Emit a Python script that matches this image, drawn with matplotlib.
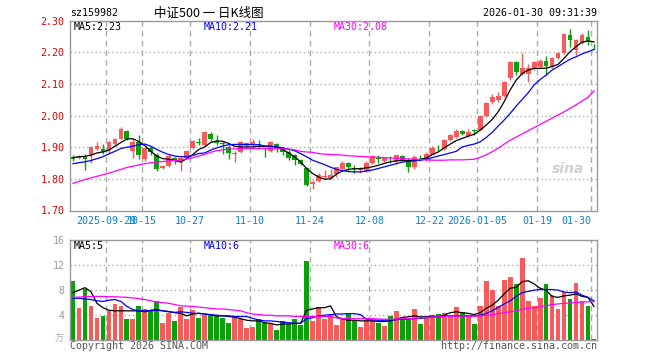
import numpy as np
import matplotlib
matplotlib.use("Agg")
import matplotlib.pyplot as plt
import matplotlib.transforms as mtransforms

# daily candles, index 0 = 2025-09-19 ... index 87 = 2026-01-30
opens = [1.870, 1.865, 1.870, 1.877, 1.893, 1.893, 1.890, 1.910, 1.927, 1.952,
         1.887, 1.915, 1.862, 1.896, 1.877, 1.835, 1.841, 1.867, 1.858, 1.865,
         1.896, 1.915, 1.907, 1.941, 1.920, 1.912, 1.901, 1.880, 1.886, 1.905,
         1.909, 1.909, 1.897, 1.889, 1.910, 1.893, 1.886, 1.875, 1.859, 1.833,
         1.783, 1.793, 1.805, 1.803, 1.815, 1.830, 1.851, 1.834, 1.827, 1.825,
         1.851, 1.866, 1.856, 1.864, 1.856, 1.872, 1.861, 1.836, 1.862, 1.862,
         1.877, 1.899, 1.893, 1.922, 1.932, 1.952, 1.936, 1.954, 1.956, 1.998,
         2.044, 2.049, 2.062, 2.118, 2.170, 2.133, 2.133, 2.149, 2.155, 2.174,
         2.158, 2.183, 2.197, 2.255, 2.207, 2.228, 2.247, 2.226]
closes = [1.864, 1.872, 1.864, 1.900, 1.905, 1.885, 1.915, 1.927, 1.958, 1.927,
          1.915, 1.875, 1.898, 1.885, 1.830, 1.841, 1.872, 1.856, 1.865, 1.889,
          1.920, 1.913, 1.949, 1.926, 1.914, 1.911, 1.882, 1.883, 1.915, 1.912,
          1.917, 1.907, 1.895, 1.915, 1.896, 1.886, 1.866, 1.859, 1.847, 1.780,
          1.790, 1.812, 1.808, 1.811, 1.836, 1.851, 1.838, 1.832, 1.832, 1.851,
          1.872, 1.864, 1.867, 1.862, 1.874, 1.861, 1.836, 1.870, 1.860, 1.880,
          1.898, 1.897, 1.922, 1.939, 1.952, 1.943, 1.949, 1.952, 1.999, 2.041,
          2.060, 2.062, 2.107, 2.170, 2.139, 2.149, 2.149, 2.170, 2.174, 2.158,
          2.181, 2.197, 2.257, 2.239, 2.239, 2.255, 2.232, 2.225]
highs = [1.877, 1.875, 1.879, 1.903, 1.916, 1.911, 1.920, 1.930, 1.965, 1.955,
         1.925, 1.939, 1.902, 1.903, 1.882, 1.844, 1.876, 1.870, 1.868, 1.892,
         1.924, 1.929, 1.952, 1.949, 1.938, 1.919, 1.907, 1.887, 1.920, 1.917,
         1.926, 1.922, 1.900, 1.919, 1.912, 1.896, 1.891, 1.880, 1.862, 1.836,
         1.796, 1.820, 1.828, 1.832, 1.836, 1.855, 1.852, 1.843, 1.836, 1.855,
         1.877, 1.874, 1.870, 1.872, 1.877, 1.875, 1.865, 1.877, 1.877, 1.885,
         1.903, 1.908, 1.925, 1.943, 1.958, 1.955, 1.959, 1.959, 2.002, 2.044,
         2.068, 2.075, 2.110, 2.174, 2.174, 2.197, 2.163, 2.174, 2.178, 2.188,
         2.186, 2.200, 2.261, 2.274, 2.243, 2.262, 2.271, 2.226]
lows = [1.856, 1.862, 1.828, 1.851, 1.890, 1.879, 1.878, 1.905, 1.925, 1.922,
        1.867, 1.862, 1.858, 1.877, 1.825, 1.832, 1.838, 1.846, 1.825, 1.862,
        1.894, 1.906, 1.905, 1.919, 1.907, 1.880, 1.864, 1.852, 1.882, 1.901,
        1.901, 1.896, 1.870, 1.886, 1.886, 1.875, 1.861, 1.845, 1.843, 1.777,
        1.767, 1.790, 1.800, 1.800, 1.805, 1.826, 1.826, 1.820, 1.818, 1.822,
        1.846, 1.851, 1.852, 1.851, 1.846, 1.857, 1.822, 1.830, 1.856, 1.858,
        1.874, 1.887, 1.890, 1.920, 1.929, 1.940, 1.931, 1.938, 1.954, 1.996,
        2.038, 2.044, 2.060, 2.114, 2.128, 2.128, 2.105, 2.145, 2.150, 2.128,
        2.152, 2.180, 2.195, 2.218, 2.192, 2.225, 2.223, 2.212]

ma5 = [1.867, 1.870, 1.871, 1.875, 1.882, 1.885, 1.891, 1.903, 1.915, 1.926,
       1.927, 1.918, 1.905, 1.887, 1.872, 1.864, 1.862, 1.858, 1.853, 1.864,
       1.877, 1.893, 1.901, 1.915, 1.920, 1.919, 1.912, 1.903, 1.901, 1.901,
       1.901, 1.903, 1.903, 1.903, 1.901, 1.893, 1.882, 1.870, 1.854, 1.833,
       1.817, 1.806, 1.799, 1.800, 1.815, 1.825, 1.830, 1.832, 1.832, 1.835,
       1.838, 1.843, 1.849, 1.854, 1.857, 1.858, 1.857, 1.859, 1.862, 1.866,
       1.877, 1.885, 1.898, 1.910, 1.921, 1.928, 1.935, 1.941, 1.954, 1.970,
       1.988, 2.012, 2.044, 2.081, 2.112, 2.133, 2.144, 2.149, 2.149, 2.150,
       2.155, 2.162, 2.181, 2.202, 2.218, 2.232, 2.236, 2.233]
ma10 = [1.848, 1.851, 1.854, 1.858, 1.864, 1.870, 1.879, 1.887, 1.896, 1.900,
        1.903, 1.908, 1.910, 1.903, 1.893, 1.884, 1.877, 1.872, 1.870, 1.870,
        1.874, 1.880, 1.882, 1.891, 1.898, 1.904, 1.908, 1.909, 1.909, 1.909,
        1.908, 1.908, 1.904, 1.903, 1.901, 1.898, 1.894, 1.889, 1.880, 1.870,
        1.859, 1.852, 1.845, 1.837, 1.830, 1.826, 1.823, 1.822, 1.822, 1.825,
        1.828, 1.833, 1.838, 1.843, 1.848, 1.853, 1.855, 1.857, 1.859, 1.862,
        1.867, 1.872, 1.877, 1.882, 1.887, 1.901, 1.906, 1.910, 1.917, 1.931,
        1.947, 1.967, 1.986, 2.007, 2.030, 2.051, 2.072, 2.097, 2.114, 2.128,
        2.144, 2.155, 2.167, 2.178, 2.186, 2.195, 2.202, 2.209]
ma30 = [1.786, 1.792, 1.798, 1.803, 1.808, 1.813, 1.818, 1.824, 1.830, 1.836,
        1.840, 1.844, 1.848, 1.851, 1.853, 1.855, 1.857, 1.858, 1.860, 1.863,
        1.867, 1.872, 1.878, 1.884, 1.889, 1.892, 1.894, 1.895, 1.896, 1.896,
        1.896, 1.896, 1.896, 1.895, 1.895, 1.895, 1.894, 1.892, 1.887, 1.885,
        1.884, 1.880, 1.878, 1.877, 1.876, 1.875, 1.873, 1.872, 1.871, 1.870,
        1.869, 1.868, 1.867, 1.866, 1.865, 1.864, 1.863, 1.862, 1.861, 1.860,
        1.859, 1.859, 1.859, 1.860, 1.860, 1.860, 1.861, 1.862, 1.868, 1.876,
        1.886, 1.897, 1.910, 1.922, 1.932, 1.942, 1.952, 1.962, 1.972, 1.982,
        1.992, 2.002, 2.012, 2.023, 2.034, 2.046, 2.058, 2.078]

# volume (万手)
volume = [9.5, 5.2, 8.2, 5.5, 3.6, 3.9, 4.7, 5.8, 5.5, 3.45,
          3.45, 5.5, 5.0, 4.7, 6.3, 2.8, 4.3, 3.1, 5.3, 3.45,
          4.8, 3.6, 4.1, 3.9, 3.9, 3.6, 2.8, 3.8, 3.45, 2.0,
          2.2, 3.45, 2.7, 2.55, 1.7, 3.1, 2.55, 3.45, 2.45, 12.7,
          3.1, 5.25, 3.35, 4.0, 2.45, 3.4, 4.3, 3.0, 2.2, 3.2,
          3.2, 2.8, 2.3, 3.9, 4.7, 3.2, 3.2, 5.0, 2.6, 3.5,
          3.9, 4.2, 4.4, 3.9, 5.3, 4.55, 3.8, 2.6, 5.5, 9.5,
          8.0, 5.4, 9.6, 10.1, 9.0, 13.2, 6.3, 5.5, 6.75, 9.0,
          7.2, 5.0, 7.75, 6.6, 9.1, 6.2, 5.5, 0.25]
vma5 = [7.6, 8.0, 8.4, 7.75, 5.9, 5.2, 4.8, 4.7, 4.7, 4.7,
        4.7, 4.7, 4.55, 4.8, 4.9, 4.7, 4.55, 4.4, 4.3, 3.9,
        4.2, 4.3, 4.2, 4.0, 3.9, 3.9, 3.8, 3.7, 3.45, 3.2,
        3.1, 3.1, 2.8, 2.7, 2.45, 2.6, 2.6, 2.7, 2.7, 4.8,
        5.0, 5.2, 5.2, 5.5, 3.75, 3.4, 3.2, 3.2, 3.1, 3.1,
        3.1, 3.0, 3.0, 3.1, 3.35, 3.65, 3.75, 3.9, 3.75, 3.75,
        3.9, 3.75, 4.0, 4.4, 4.55, 4.4, 4.3, 4.1, 4.4, 5.1,
        5.6, 6.4, 7.4, 8.3, 8.45, 9.35, 9.5, 9.0, 8.3, 8.0,
        7.0, 6.85, 7.1, 7.2, 7.4, 7.0, 6.85, 5.4]
vma10 = [6.7, 6.7, 6.6, 6.5, 6.3, 6.2, 6.4, 6.5, 6.2, 5.4,
         4.9, 4.7, 4.7, 4.7, 4.8, 4.7, 4.6, 4.45, 4.55, 4.45,
         4.3, 4.3, 4.2, 4.1, 4.0, 3.9, 3.9, 3.8, 3.8, 3.8,
         3.5, 3.25, 3.1, 3.1, 3.0, 2.9, 2.8, 2.75, 2.7, 3.45,
         3.6, 3.9, 4.0, 4.1, 4.2, 4.2, 4.25, 4.25, 4.1, 3.35,
         3.25, 3.2, 3.2, 3.25, 3.3, 3.35, 3.35, 3.45, 3.5, 3.6,
         3.7, 3.75, 3.8, 3.9, 3.9, 3.9, 3.9, 3.9, 4.0, 4.3,
         4.7, 5.25, 5.8, 6.3, 7.0, 7.6, 7.8, 8.0, 8.1, 8.1,
         8.1, 8.0, 7.7, 7.6, 7.7, 7.2, 6.85, 6.3]
vma30 = [6.85, 6.9, 6.95, 7.0, 7.0, 7.0, 6.95, 6.95, 6.9, 6.85,
         6.75, 6.65, 6.5, 6.3, 6.1, 6.0, 5.9, 5.7, 5.5, 5.45,
         5.4, 5.3, 5.2, 5.1, 5.0, 5.0, 4.9, 4.8, 4.7, 4.4,
         4.2, 4.1, 4.0, 4.0, 3.9, 3.9, 3.9, 3.8, 3.8, 3.8,
         3.8, 3.8, 3.8, 3.8, 3.55, 3.5, 3.5, 3.45, 3.45, 3.45,
         3.45, 3.4, 3.35, 3.35, 3.4, 3.45, 3.45, 3.5, 3.6, 3.65,
         3.7, 3.75, 3.8, 3.85, 3.85, 3.85, 3.85, 3.85, 3.9, 4.0,
         4.1, 4.25, 4.4, 4.55, 4.7, 4.95, 5.1, 5.2, 5.35, 5.5,
         5.7, 5.8, 5.9, 5.95, 6.05, 6.1, 6.15, 6.15]

date_idx = [6, 12, 20, 30, 40, 50, 60, 68, 78, 87]
date_labels = ["2025-09-29", "10-15", "10-27", "11-10", "11-24",
               "12-08", "12-22", "2026-01-05", "01-19", "01-30"]
price_ticks = [1.70, 1.80, 1.90, 2.00, 2.10, 2.20, 2.30]
vol_ticks = [4, 8, 12, 16]

RED = "#f65b5b"
GREEN = "#0aa00a"
GRID = "#aaaaaa"
MONO = "DejaVu Sans Mono"
CJK = ["Noto Sans CJK SC", "DejaVu Sans"]

o = np.array(opens); c = np.array(closes)
x = np.arange(len(opens))
up = c >= o
colors = [RED if u else GREEN for u in up]

fig = plt.figure(figsize=(6.6, 3.6), dpi=100)
W, H = 660.0, 360.0
ax = fig.add_axes([70 / W, 1 - 210.5 / H, 527 / W, 189.8 / H])
axv = fig.add_axes([70 / W, 1 - 340.3 / H, 527 / W, 100.3 / H])

for a in (ax, axv):
    a.set_xlim(-0.5, len(opens) - 0.5)
    for s in a.spines.values():
        s.set_color("#999999")
        s.set_linewidth(1)
    a.tick_params(length=0, pad=4)
    a.set_xticks([])
    for d in date_idx:
        a.axvline(d - 0.5, color=GRID, lw=1, ls=(0, (4, 3)), zorder=0)

# price panel
ax.set_ylim(1.70, 2.30)
ax.set_yticks(price_ticks)
ax.set_yticklabels(["%.2f" % t for t in price_ticks], family=MONO, fontsize=7.2, color="#e60000")
for t in price_ticks[1:-1]:
    ax.axhline(t, color=GRID, lw=1, ls=(0, (1, 2)), zorder=0)

ax.vlines(x, lows, highs, colors=colors, lw=1, zorder=2)
body = np.maximum(np.abs(c - o), 0.002)
ax.bar(x, body, bottom=np.minimum(o, c), width=0.8, color=colors, lw=0, zorder=3)
ax.plot(x, ma5, color="black", lw=0.9, zorder=4)
ax.plot(x, ma10, color="#0000ff", lw=0.9, zorder=4)
ax.plot(x, ma30, color="#ff00ff", lw=0.9, zorder=4)

ax.text(4 / 527, 0.965, "MA5:%.2f" % ma5[-1], transform=ax.transAxes, family=MONO,
        fontsize=7.2, color="black", va="center")
ax.text(134 / 527, 0.965, "MA10:%.2f" % ma10[-1], transform=ax.transAxes, family=MONO,
        fontsize=7.2, color="#0000ff", va="center")
ax.text(264 / 527, 0.965, "MA30:%.2f" % ma30[-1], transform=ax.transAxes, family=MONO,
        fontsize=7.2, color="#ff00ff", va="center")
ax.text(0.945, 0.22, "sina", transform=ax.transAxes, fontsize=10, style="italic",
        weight="bold", color="#d0d0d0", ha="center", va="center", zorder=1)

trans = mtransforms.blended_transform_factory(ax.transData, ax.transAxes)
for d, lab in zip(date_idx, date_labels):
    ha = "right" if d == date_idx[-1] else "center"
    ax.text(d - 0.5, -0.055, lab, transform=trans, family=MONO, fontsize=7.2,
            color="#0a80d0", ha=ha, va="center")

# volume panel
axv.set_ylim(0, 16)
axv.set_yticks(vol_ticks)
axv.set_yticklabels([str(t) for t in vol_ticks], family=MONO, fontsize=7.2, color="#999999")
for t in vol_ticks[:-1]:
    axv.axhline(t, color=GRID, lw=1, ls=(0, (1, 2)), zorder=0)
axv.bar(x, volume, width=0.8, color=colors, lw=0, zorder=2)
axv.plot(x, vma5, color="black", lw=0.9, zorder=3)
axv.plot(x, vma10, color="#0000ff", lw=0.9, zorder=3)
axv.plot(x, vma30, color="#ff00ff", lw=0.9, zorder=3)
axv.text(4 / 527, 0.94, "MA5:%d" % round(vma5[-1]), transform=axv.transAxes, family=MONO,
         fontsize=7.2, color="black", va="center")
axv.text(134 / 527, 0.94, "MA10:%d" % round(vma10[-1]), transform=axv.transAxes, family=MONO,
         fontsize=7.2, color="#0000ff", va="center")
axv.text(264 / 527, 0.94, "MA30:%d" % round(vma30[-1]), transform=axv.transAxes, family=MONO,
         fontsize=7.2, color="#ff00ff", va="center")

# header / footer
fig.text(70 / W, 1 - 13 / H, "sz159982", family=MONO, fontsize=7.2, va="center")
fig.text(209 / W, 1 - 13 / H, "中证500 一 日K线图", family=CJK, fontsize=9, ha="center", va="center")
fig.text(597 / W, 1 - 13 / H, "2026-01-30 09:31:39", family=MONO, fontsize=7.2, ha="right", va="center")
fig.text(64 / W, 1 - 339 / H, "万", family=CJK, fontsize=6.5, color="#aaaaaa", ha="right", va="center")
fig.text(70 / W, 1 - 346 / H, "Copyright 2026 SINA.COM", family=MONO, fontsize=7.2,
         color="#555555", va="center")
fig.text(597 / W, 1 - 346 / H, "http://finance.sina.com.cn", family=MONO, fontsize=7.2,
         color="#555555", ha="right", va="center")

fig.savefig("out.png", dpi=100)
